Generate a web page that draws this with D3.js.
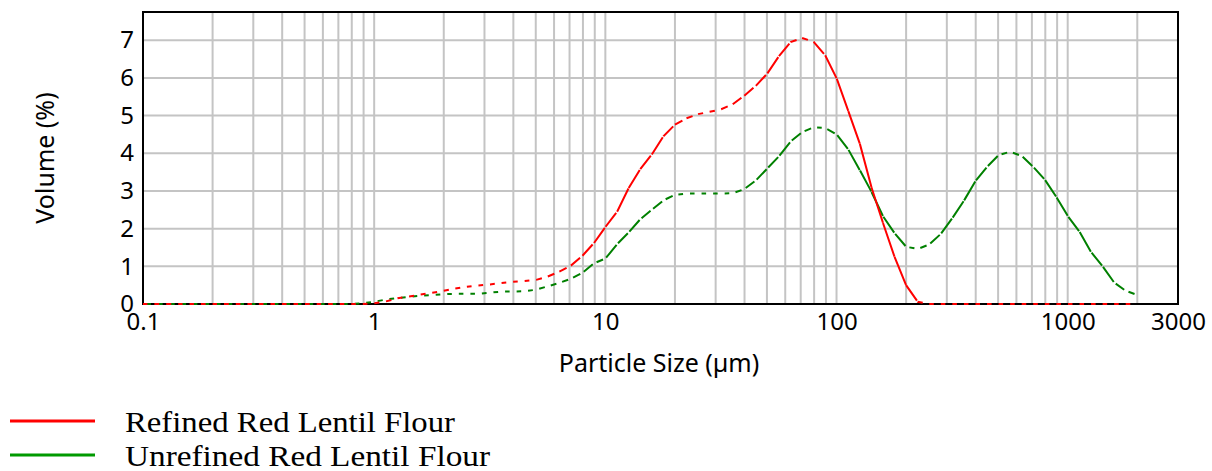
<!DOCTYPE html>
<meta charset="utf-8">
<style>
  body { margin: 0; background: #fff; }
  .tick text, .lbl { font-family: "Noto Sans", sans-serif; fill: #000; }
  .legend text { font-family: "Liberation Serif", serif; font-size: 30px; fill: #000; }
  .grid line { stroke: #c4c4c4; stroke-width: 2px; }
</style>
<body>
<script src="https://d3js.org/d3.v7.min.js"></script>
<script>
  // particle size classes (um), Mastersizer bins from 0.1 to 2000
  var sizes = [0.100, 0.112, 0.126, 0.142, 0.159, 0.178, 0.200, 0.224, 0.252, 0.283,
    0.317, 0.356, 0.399, 0.448, 0.502, 0.564, 0.632, 0.710, 0.796, 0.893,
    1.002, 1.125, 1.262, 1.416, 1.589, 1.783, 2.000, 2.244, 2.518, 2.825,
    3.170, 3.557, 3.991, 4.477, 5.024, 5.637, 6.325, 7.096, 7.962, 8.934,
    10.024, 11.247, 12.619, 14.159, 15.887, 17.825, 20.000, 22.440, 25.179, 28.251,
    31.698, 35.566, 39.905, 44.774, 50.238, 56.368, 63.246, 70.963, 79.621, 89.337,
    100.237, 112.468, 126.191, 141.589, 158.866, 178.250, 200.000, 224.404, 251.785, 282.508,
    316.979, 355.656, 399.052, 447.744, 502.377, 563.677, 632.456, 709.627, 796.214, 893.367,
    1002.374, 1124.683, 1261.915, 1415.892, 1588.656, 1782.502, 2000.000];

  var refined = [0, 0, 0, 0, 0, 0, 0, 0, 0, 0,
    0, 0, 0, 0, 0, 0, 0, 0, 0, 0,
    0.02, 0.07, 0.15, 0.20, 0.25, 0.30, 0.35, 0.41, 0.46, 0.49,
    0.52, 0.56, 0.59, 0.61, 0.64, 0.73, 0.86, 1.02, 1.28, 1.62,
    2.05, 2.45, 3.08, 3.58, 3.97, 4.45, 4.76, 4.93, 5.04, 5.10,
    5.17, 5.30, 5.53, 5.79, 6.12, 6.58, 6.95, 7.06, 6.96, 6.60,
    5.98, 5.12, 4.25, 3.10, 2.15, 1.25, 0.50, 0.06, 0, 0,
    0, 0, 0, 0, 0, 0, 0, 0, 0, 0,
    0, 0, 0, 0, 0, 0, 0];

  var unrefined = [0, 0, 0, 0, 0, 0, 0, 0, 0, 0,
    0, 0, 0, 0, 0, 0, 0, 0, 0, 0.02,
    0.06, 0.12, 0.16, 0.19, 0.22, 0.24, 0.26, 0.27, 0.27, 0.27,
    0.30, 0.33, 0.33, 0.34, 0.38, 0.47, 0.56, 0.67, 0.83, 1.08,
    1.21, 1.59, 1.90, 2.25, 2.50, 2.75, 2.90, 2.93, 2.93, 2.93,
    2.93, 2.94, 3.05, 3.28, 3.60, 3.92, 4.31, 4.56, 4.69, 4.67,
    4.50, 4.10, 3.55, 2.98, 2.33, 1.88, 1.52, 1.46, 1.58, 1.86,
    2.28, 2.74, 3.26, 3.64, 3.95, 4.04, 3.93, 3.64, 3.30, 2.84,
    2.33, 1.92, 1.38, 1.00, 0.57, 0.35, 0.24];

  var xTicks = [0.1, 1, 10, 100, 1000, 3000];
  var yTicks = [0, 1, 2, 3, 4, 5, 6, 7];
  var seriesNames = ["Refined Red Lentil Flour", "Unrefined Red Lentil Flour"];
  var legendWidths = [330, 365];
  var lineColors = ["#ff0000", "#008000"];
  var legendColors = ["#ff0000", "#009a00"];

  var width = 1212, height = 471;
  var margin = {top: 12, right: 34, bottom: 167, left: 143};

  var svg = d3.select("body").append("svg")
    .attr("width", width)
    .attr("height", height);

  var x = d3.scaleLog().domain([0.1, 3000]).range([margin.left, width - margin.right]);
  var y = d3.scaleLinear().domain([0, 7.75]).range([height - margin.bottom, margin.top]);

  // minor grid: every 1..9 of each decade
  var gridX = [];
  [0.1, 1, 10, 100, 1000].forEach(function (d) {
    for (var k = 1; k < 10; k++) {
      var v = d * k;
      if (v > 0.1 && v < 3000) gridX.push(v);
    }
  });

  var grid = svg.append("g").attr("class", "grid");
  grid.selectAll("line.v")
    .data(gridX)
    .enter().append("line")
    .attr("x1", function (d) { return x(d); })
    .attr("x2", function (d) { return x(d); })
    .attr("y1", y.range()[0])
    .attr("y2", y.range()[1]);
  grid.selectAll("line.h")
    .data(yTicks.slice(1))
    .enter().append("line")
    .attr("x1", x.range()[0])
    .attr("x2", x.range()[1])
    .attr("y1", function (d) { return y(d); })
    .attr("y2", function (d) { return y(d); });

  // frame
  svg.append("rect")
    .attr("x", x.range()[0])
    .attr("y", y.range()[1])
    .attr("width", x.range()[1] - x.range()[0])
    .attr("height", y.range()[0] - y.range()[1])
    .attr("fill", "none")
    .attr("stroke", "#000")
    .attr("stroke-width", 2);

  // curves - drawn as a polyline; shallow segments get a gap so they look dashed
  function segDash(pts, centered) {
    var arr = [];
    for (var i = 1; i < pts.length; i++) {
      var dx = pts[i][0] - pts[i - 1][0], dy = pts[i][1] - pts[i - 1][1];
      var L = Math.sqrt(dx * dx + dy * dy);
      var gap = Math.min(L * 0.8, 7 * Math.pow(Math.abs(dx) / L, 3));
      if (centered) arr.push(0, gap / 2, L - gap, gap / 2);
      else arr.push(L - gap, gap);
    }
    return arr.join(",");
  }

  var line = d3.line()
    .x(function (d) { return x(d[0]); })
    .y(function (d) { return y(d[1]); });

  [unrefined, refined].forEach(function (vals, j) {
    var data = sizes.map(function (s, i) { return [s, vals[i]]; });
    var pts = data.map(function (d) { return [x(d[0]), y(d[1])]; });
    var idx = j === 0 ? 1 : 0;
    svg.append("path")
      .datum(data)
      .attr("d", line)
      .attr("fill", "none")
      .attr("stroke", lineColors[idx])
      .attr("stroke-width", 2)
      .attr("stroke-dasharray", segDash(pts, j === 0));
  });

  // axes
  var xAxis = svg.append("g")
    .attr("transform", "translate(0," + y.range()[0] + ")")
    .call(d3.axisBottom(x).tickValues(xTicks).tickSize(0).tickPadding(9)
      .tickFormat(function (d) { return String(d); }));
  xAxis.select(".domain").remove();
  xAxis.selectAll("text").attr("font-size", 24).attr("dy", "0.72em");

  var yAxis = svg.append("g")
    .attr("transform", "translate(" + x.range()[0] + ",0)")
    .call(d3.axisLeft(y).tickValues(yTicks).tickSize(0).tickPadding(9));
  yAxis.select(".domain").remove();
  yAxis.selectAll("text").attr("font-size", 24);

  svg.append("text")
    .attr("class", "lbl")
    .attr("x", 659)
    .attr("y", 372)
    .attr("text-anchor", "middle")
    .attr("font-size", 25)
    .text("Particle Size (\u00b5m)");

  svg.append("text")
    .attr("class", "lbl")
    .attr("transform", "translate(54,158) rotate(-90)")
    .attr("text-anchor", "middle")
    .attr("font-size", 25)
    .text("Volume (%)");

  // legend
  var legend = svg.append("g").attr("class", "legend");
  var items = legend.selectAll("g")
    .data(seriesNames)
    .enter().append("g")
    .attr("transform", function (d, i) { return "translate(0," + (421 + i * 34) + ")"; });
  items.append("line")
    .attr("x1", 10).attr("x2", 95)
    .attr("y1", 0).attr("y2", 0)
    .attr("stroke", function (d, i) { return legendColors[i]; })
    .attr("stroke-width", 3);
  items.append("text")
    .attr("x", 125)
    .attr("y", 11)
    .attr("textLength", function (d, i) { return legendWidths[i]; })
    .attr("lengthAdjust", "spacingAndGlyphs")
    .text(function (d) { return d; });
</script>
</body>
